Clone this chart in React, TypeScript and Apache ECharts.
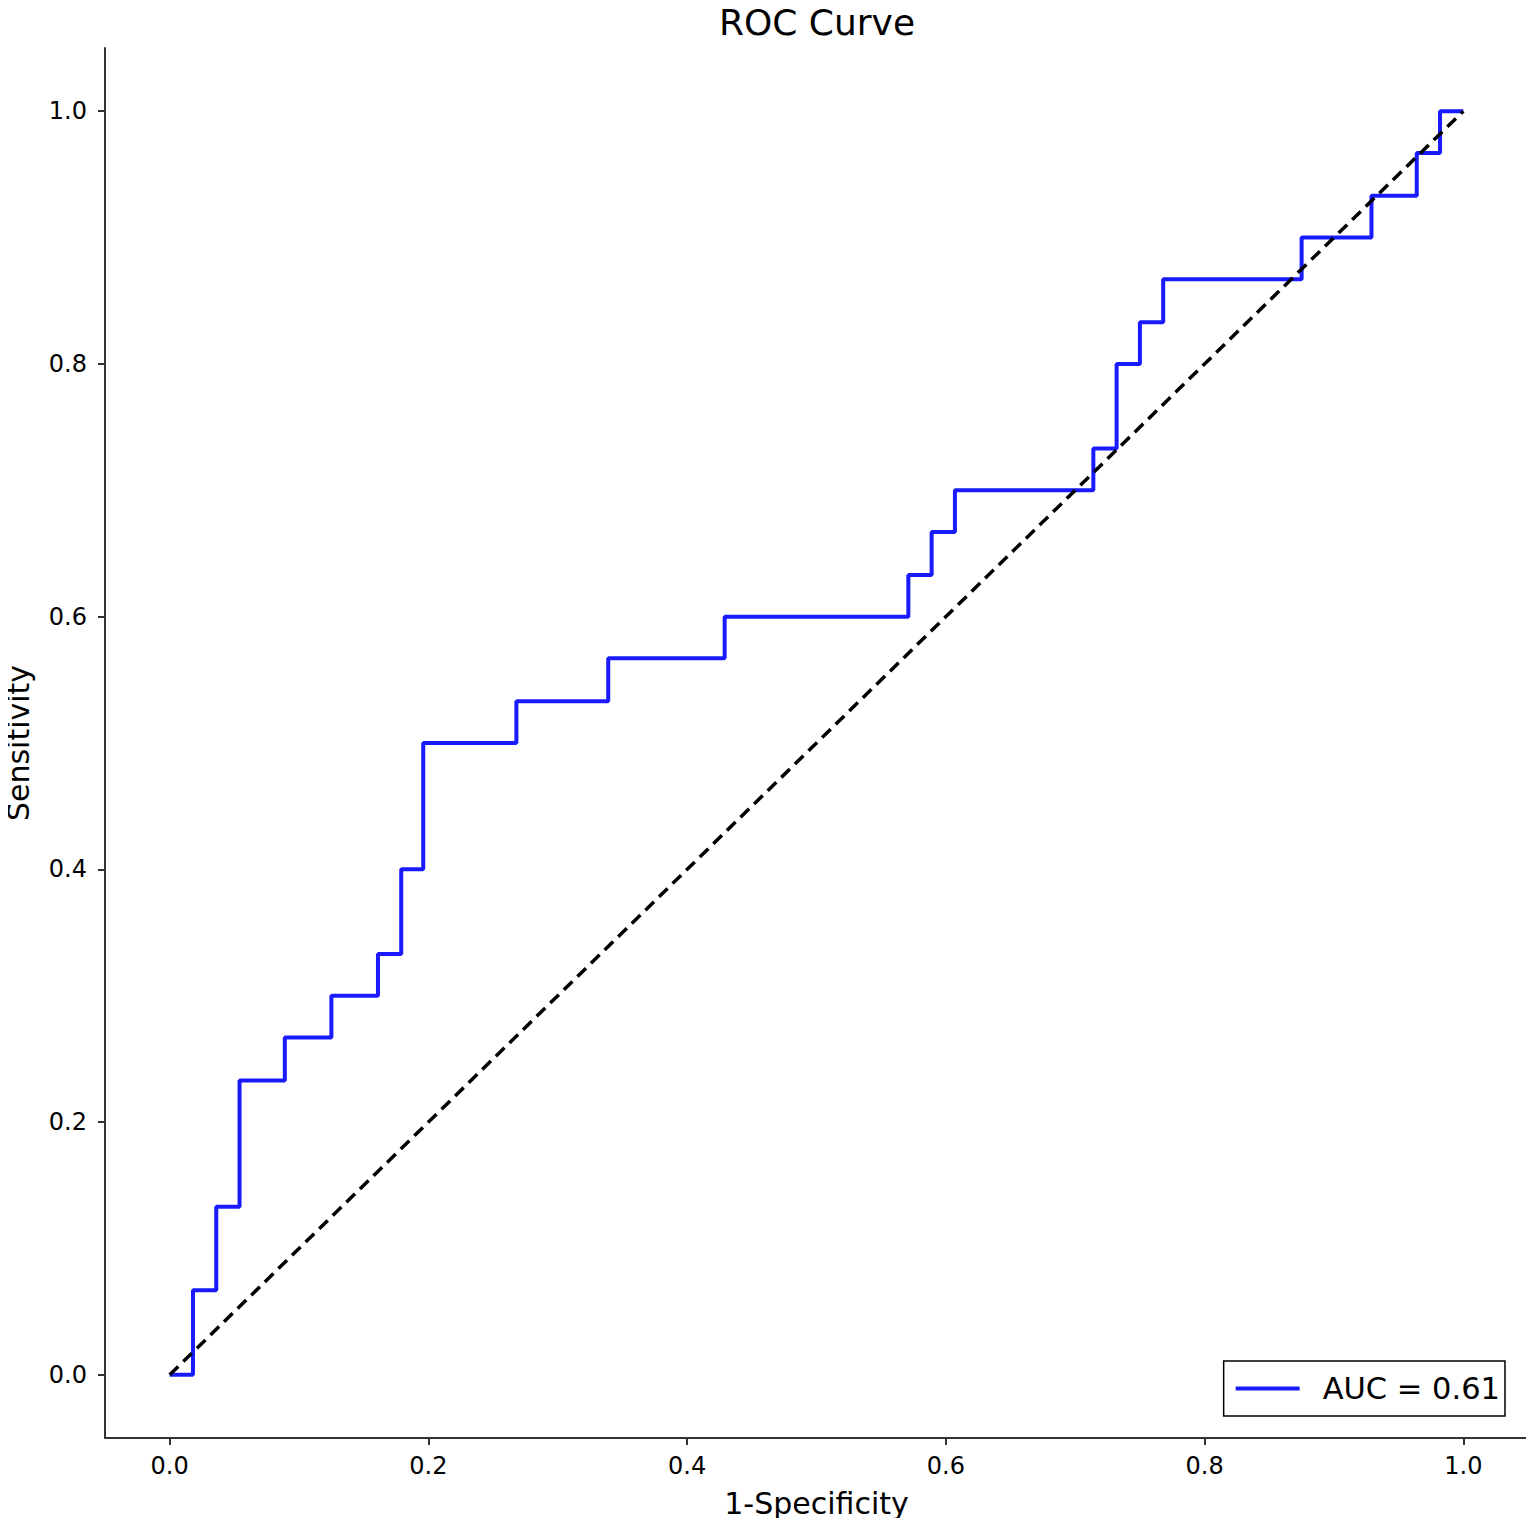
import React, { useEffect, useRef } from "react";
import * as echarts from "echarts";

const fpr = [0, 0.018, 0.036, 0.054, 0.089, 0.125, 0.161, 0.179, 0.196, 0.268, 0.339, 0.429, 0.571, 0.589, 0.607, 0.714, 0.732, 0.75, 0.768, 0.875, 0.929, 0.964, 0.982, 1.0];
const tpr = [0, 0.067, 0.133, 0.233, 0.267, 0.3, 0.333, 0.4, 0.5, 0.533, 0.567, 0.6, 0.633, 0.667, 0.7, 0.733, 0.8, 0.833, 0.867, 0.9, 0.933, 0.967, 1.0, 1.0];
const diagX = [0, 1];
const diagY = [0, 1];
const tickValues = [0, 0.2, 0.4, 0.6, 0.8, 1.0];
const seriesName = "AUC = 0.61";

const FONT = "DejaVu Sans";

export default function App() {
  const ref = useRef<HTMLDivElement>(null);
  useEffect(() => {
    if (!ref.current) return;
    const chart = echarts.init(ref.current, null, { renderer: "svg" });
    const axisCommon = (margin: number) => ({
      type: "value",
      min: -0.05,
      max: 1.05,
      splitLine: { show: false },
      axisLine: { show: true, onZero: false, lineStyle: { color: "#333", width: 2 } },
      axisTick: { show: true, length: 7, inside: false, customValues: tickValues, lineStyle: { color: "#333", width: 2 } },
      axisLabel: {
        customValues: tickValues,
        formatter: (v: number) => v.toFixed(1),
        fontFamily: FONT,
        fontSize: 24,
        color: "#000",
        margin,
      },
      nameLocation: "middle",
      nameTextStyle: { fontFamily: FONT, fontSize: 30, color: "#000" },
    });
    chart.setOption({
      animation: false,
      backgroundColor: "#fff",
      title: {
        text: "ROC Curve",
        left: 817,
        textAlign: "center",
        top: 4,
        padding: 0,
        textStyle: { fontFamily: FONT, fontSize: 36, fontWeight: "normal", color: "#000" },
      },
      grid: { left: 105, right: 6, top: 48, bottom: 88, containLabel: false, outerBoundsMode: "none" },
      xAxis: { ...axisCommon(16), name: "1-Specificity", nameGap: 50 },
      yAxis: { ...axisCommon(18), name: "Sensitivity", nameGap: 72 },
      legend: {
        data: [{ name: seriesName, icon: "rect" }],
        right: 29,
        bottom: 110,
        itemWidth: 64,
        itemHeight: 4,
        borderColor: "#000",
        borderWidth: 1.5,
        borderRadius: 0,
        padding: [12, 5, 12, 12],
        textStyle: { fontFamily: FONT, fontSize: 30.5, color: "#000", padding: [0, 0, 0, 18] },
      },
      series: [
        {
          name: seriesName,
          type: "line",
          step: "end",
          data: fpr.map((x, i) => [x, tpr[i]]),
          showSymbol: false,
          lineStyle: { color: "#1a1aff", width: 4 },
          itemStyle: { color: "#1a1aff" },
          z: 2,
        },
        {
          name: "diag",
          type: "line",
          data: diagX.map((x, i) => [x, diagY[i]]),
          showSymbol: false,
          lineStyle: { color: "#000", width: 3.5, type: [12, 7] },
          z: 3,
        },
      ],
    });
    return () => chart.dispose();
  }, []);
  return <div ref={ref} style={{ width: 1534, height: 1526, margin: -8 }} />;
}
